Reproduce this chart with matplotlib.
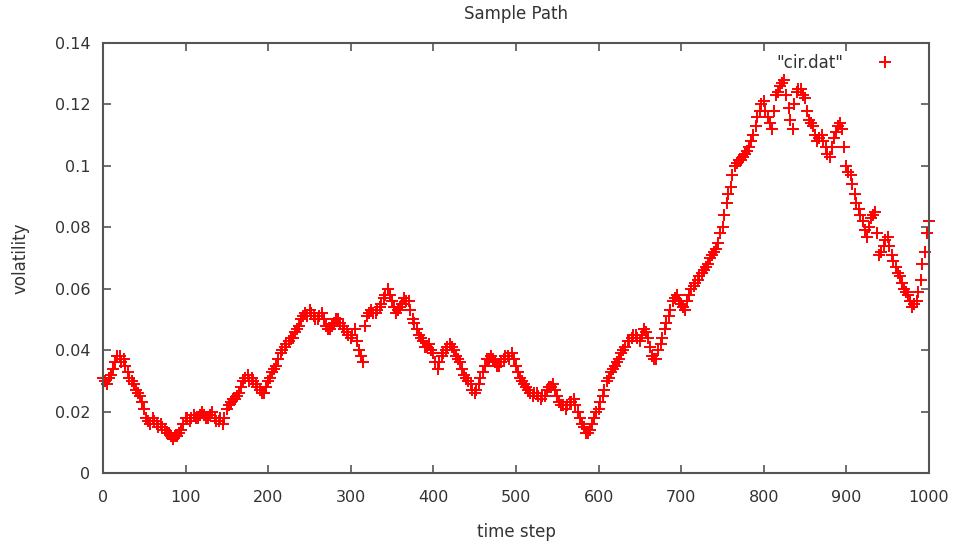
import numpy as np
import matplotlib
matplotlib.use("Agg")
import matplotlib.pyplot as plt

# time steps (every 5th step) and read-off volatility values
steps = list(range(0, 1001, 5))
volatility = [
    0.031, 0.029, 0.032, 0.036, 0.038, 0.037, 0.033, 0.030, 0.027, 0.025,
    0.021, 0.017, 0.018, 0.016, 0.016, 0.014, 0.013, 0.011, 0.012, 0.014,
    0.018, 0.017, 0.019, 0.018, 0.020, 0.018, 0.019, 0.018, 0.017, 0.016,
    0.021, 0.023, 0.024, 0.026, 0.030, 0.032, 0.031, 0.029, 0.027, 0.026,
    0.030, 0.033, 0.035, 0.039, 0.041, 0.043, 0.044, 0.047, 0.050, 0.052,
    0.053, 0.051, 0.050, 0.052, 0.048, 0.047, 0.049, 0.050, 0.048, 0.046,
    0.044, 0.047, 0.040, 0.036, 0.051, 0.053, 0.052, 0.054, 0.057, 0.060,
    0.056, 0.052, 0.054, 0.057, 0.056, 0.050, 0.047, 0.044, 0.041, 0.042,
    0.039, 0.034, 0.038, 0.040, 0.042, 0.040, 0.037, 0.034, 0.031, 0.029,
    0.026, 0.029, 0.033, 0.037, 0.038, 0.036, 0.035, 0.037, 0.038, 0.039,
    0.035, 0.031, 0.029, 0.027, 0.025, 0.026, 0.024, 0.025, 0.028, 0.029,
    0.025, 0.022, 0.021, 0.023, 0.024, 0.020, 0.016, 0.013, 0.014, 0.018,
    0.021, 0.025, 0.030, 0.033, 0.035, 0.037, 0.040, 0.043, 0.044, 0.045,
    0.043, 0.047, 0.044, 0.038, 0.037, 0.042, 0.047, 0.051, 0.056, 0.058,
    0.055, 0.053, 0.058, 0.061, 0.063, 0.065, 0.067, 0.070, 0.072, 0.075,
    0.080, 0.088, 0.093, 0.100, 0.102, 0.103, 0.105, 0.108, 0.113, 0.118,
    0.121, 0.116, 0.112, 0.123, 0.126, 0.128, 0.119, 0.112, 0.124, 0.125,
    0.122, 0.115, 0.113, 0.108, 0.110, 0.106, 0.103, 0.109, 0.113, 0.112,
    0.100, 0.097, 0.091, 0.086, 0.082, 0.077, 0.083, 0.085, 0.071, 0.074,
    0.077, 0.071, 0.067, 0.064, 0.060, 0.058, 0.054, 0.056, 0.063, 0.072,
    0.082,
]

steps_mid = list(range(2, 1000, 5))
volatility_mid = [
    0.030, 0.031, 0.034, 0.038, 0.036, 0.035, 0.031, 0.029, 0.026, 0.023,
    0.018, 0.016, 0.017, 0.015, 0.015, 0.013, 0.012, 0.012, 0.013, 0.016,
    0.018, 0.018, 0.018, 0.019, 0.019, 0.018, 0.020, 0.017, 0.018, 0.018,
    0.022, 0.024, 0.025, 0.028, 0.031, 0.030, 0.030, 0.028, 0.026, 0.028,
    0.031, 0.034, 0.037, 0.040, 0.042, 0.044, 0.046, 0.048, 0.051, 0.051,
    0.052, 0.050, 0.051, 0.050, 0.047, 0.048, 0.050, 0.049, 0.047, 0.045,
    0.045, 0.043, 0.038, 0.048, 0.052, 0.052, 0.053, 0.055, 0.058, 0.058,
    0.054, 0.053, 0.055, 0.056, 0.053, 0.049, 0.045, 0.043, 0.041, 0.040,
    0.036, 0.036, 0.039, 0.041, 0.041, 0.038, 0.036, 0.032, 0.030, 0.027,
    0.027, 0.031, 0.035, 0.037, 0.037, 0.035, 0.036, 0.038, 0.037, 0.037,
    0.033, 0.030, 0.028, 0.026, 0.026, 0.025, 0.025, 0.027, 0.028, 0.027,
    0.023, 0.022, 0.022, 0.023, 0.022, 0.018, 0.015, 0.013, 0.016, 0.020,
    0.023, 0.027, 0.031, 0.034, 0.036, 0.039, 0.041, 0.043, 0.045, 0.044,
    0.045, 0.046, 0.041, 0.037, 0.040, 0.044, 0.049, 0.053, 0.057, 0.056,
    0.054, 0.056, 0.060, 0.062, 0.064, 0.066, 0.068, 0.071, 0.073, 0.078,
    0.084, 0.091, 0.097, 0.101, 0.102, 0.104, 0.106, 0.110, 0.116, 0.120,
    0.118, 0.114, 0.118, 0.124, 0.127, 0.123, 0.115, 0.120, 0.125, 0.123,
    0.118, 0.114, 0.110, 0.109, 0.108, 0.104, 0.106, 0.111, 0.114, 0.106,
    0.098, 0.094, 0.088, 0.084, 0.079, 0.080, 0.084, 0.078, 0.072, 0.076,
    0.074, 0.069, 0.065, 0.062, 0.059, 0.056, 0.055, 0.059, 0.068, 0.078,
]

x_ticks = list(range(0, 1001, 100))
y_ticks = [0, 0.02, 0.04, 0.06, 0.08, 0.1, 0.12, 0.14]
y_tick_labels = ["0", "0.02", "0.04", "0.06", "0.08", "0.1", "0.12", "0.14"]

text_color = "#333333"
frame_color = "#555555"

all_steps = np.concatenate([steps, steps_mid])
all_vol = np.concatenate([volatility, volatility_mid])
order = np.argsort(all_steps, kind="stable")

fig = plt.figure(figsize=(9.59, 5.5), dpi=100)
ax = fig.add_axes([103 / 959, 77 / 550, 826 / 959, 430 / 550])

ax.plot(all_steps[order], all_vol[order], linestyle="none", marker="+",
        color="#ff0000", markersize=9, markeredgewidth=1.4,
        label='"cir.dat"', clip_on=False)

ax.set_xlim(0, 1000)
ax.set_ylim(0, 0.14)
ax.set_xticks(x_ticks)
ax.set_yticks(y_ticks)
ax.set_yticklabels(y_tick_labels)
ax.tick_params(direction="in", length=6, width=1.2, color=frame_color,
               top=True, right=True, labelsize=11.5, labelcolor=text_color)
ax.tick_params(axis="x", pad=12)
ax.tick_params(axis="y", pad=9)
for spine in ax.spines.values():
    spine.set_color(frame_color)
    spine.set_linewidth(1.5)

ax.set_title("Sample Path", fontsize=12, color=text_color, pad=17)
ax.set_xlabel("time step", fontsize=12, color=text_color, labelpad=13)
ax.set_ylabel("volatility", fontsize=12, color=text_color, labelpad=18)

leg = ax.legend(loc="upper right", bbox_to_anchor=(0.975, 1.01), frameon=False,
                markerfirst=False, fontsize=12, handlelength=1.0,
                handletextpad=2.0)
for t in leg.get_texts():
    t.set_color(text_color)

fig.savefig("out.png", dpi=100)
